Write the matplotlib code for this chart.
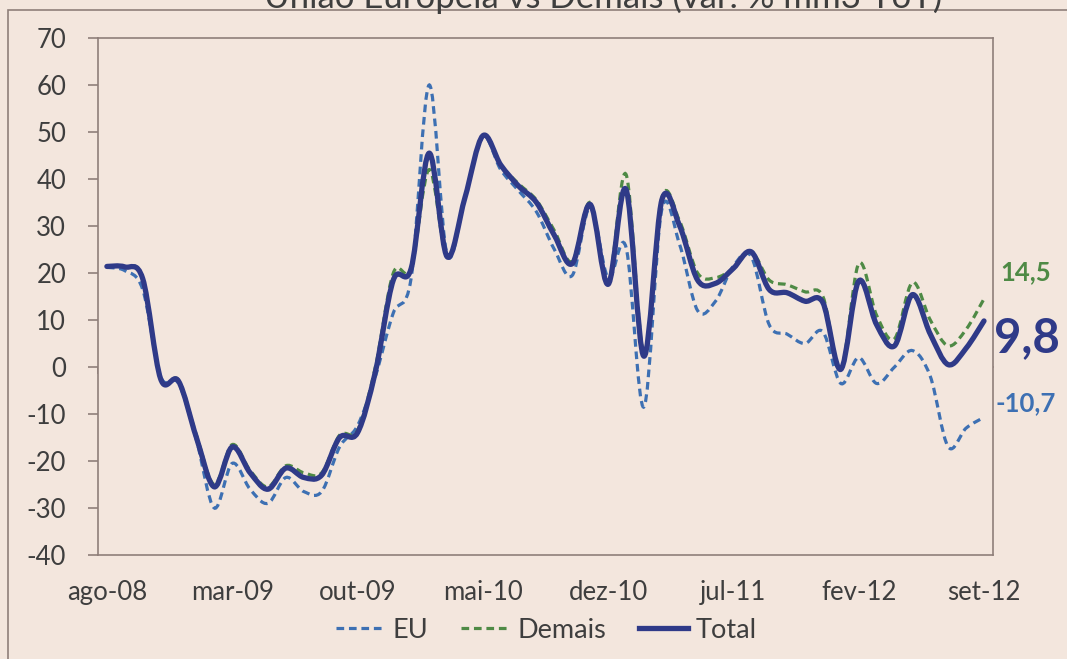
import matplotlib
matplotlib.use("Agg")
import matplotlib.pyplot as plt
from matplotlib.lines import Line2D
from matplotlib.patches import Rectangle, PathPatch
from matplotlib.path import Path

plt.rcParams['font.family'] = ['Lato', 'DejaVu Sans']
plt.rcParams['axes.unicode_minus'] = False

# ---- data (monthly, ago-08 .. set-12) ----
months = ["ago-08", "set-08", "out-08", "nov-08", "dez-08",
          "jan-09", "fev-09", "mar-09", "abr-09", "mai-09", "jun-09", "jul-09",
          "ago-09", "set-09", "out-09", "nov-09", "dez-09",
          "jan-10", "fev-10", "mar-10", "abr-10", "mai-10", "jun-10", "jul-10",
          "ago-10", "set-10", "out-10", "nov-10", "dez-10",
          "jan-11", "fev-11", "mar-11", "abr-11", "mai-11", "jun-11", "jul-11",
          "ago-11", "set-11", "out-11", "nov-11", "dez-11",
          "jan-12", "fev-12", "mar-12", "abr-12", "mai-12", "jun-12", "jul-12",
          "ago-12", "set-12"]

eu = [21.2, 20.5, 16.5, -2, -3.5, -15.5, -30, -20.5, -26, -29,
      -23.5, -26.5, -26.5, -17, -12.5, -2, 11.5, 19, 60, 24,
      36, 49, 42, 37.5, 33, 25, 19.5, 34, 19, 25.5,
      -8.5, 33.5, 26, 12, 14, 21.5, 23.5, 9, 7, 5,
      7.5, -3.5, 2, -3.5, 0, 3.5, -2, -17, -13, -10.7]

demais = [21.4, 21.3, 19, -2.5, -2.8, -14.5, -25, -16.5, -22, -25.5,
          -21, -22.5, -22.5, -14.5, -13.5, 0, 20, 21, 42, 23.5,
          36, 49, 43, 39, 35.5, 29, 22.5, 35, 18, 41,
          3, 36, 31, 20, 19, 21, 24.5, 18.5, 17.5, 16,
          15, -0.5, 22, 11, 6, 18, 10, 4.5, 8, 14.5]

total = [21.4, 21.3, 18.8, -2.5, -3, -15, -25.5, -17, -22.5, -26,
         -21.5, -23.5, -23, -15, -14, -1, 18.5, 21, 45.5, 23.5,
         36, 49.2, 43, 38.5, 35, 28, 22, 34.6, 17.6, 37.8,
         2.3, 35.5, 30, 18.5, 17.8, 21, 24.5, 16.5, 15.8, 14,
         13.7, -0.5, 18.3, 9, 4.5, 15.4, 7, 0.5, 4, 9.8]

series_names = ["EU", "Demais", "Total"]
yticks = list(range(-40, 71, 10))
label_step = 7

# ---- style ----
bg = "#F3E6DD"
frame_c = "#8F7F7A"
text_c = "#3E3E3E"
c_eu = "#3D70B3"
c_dem = "#4E8A45"
c_tot = "#2F3A88"


def smooth_line(ax, xs, ys, **kw):
    """Excel-style smoothed line: cubic Bezier segments through every data point."""
    n = len(xs)
    verts = [(xs[0], ys[0])]
    codes = [Path.MOVETO]
    for i in range(n - 1):
        a = i - 1 if i > 0 else i
        d = i + 2 if i + 2 < n else i + 1
        c1 = (xs[i] + (xs[i + 1] - xs[a]) / 6.0, ys[i] + (ys[i + 1] - ys[a]) / 6.0)
        c2 = (xs[i + 1] - (xs[d] - xs[i]) / 6.0, ys[i + 1] - (ys[d] - ys[i]) / 6.0)
        verts += [c1, c2, (xs[i + 1], ys[i + 1])]
        codes += [Path.CURVE4] * 3
    patch = PathPatch(Path(verts, codes), fill=False, **kw)
    ax.add_patch(patch)
    return patch


fig = plt.figure(figsize=(10.67, 6.59), dpi=100, facecolor=bg)
ax = fig.add_axes([0.0918, 0.1578, 0.8388, 0.7845], facecolor=bg)

x = list(range(len(months)))
dash = (0, (2.4, 1.5))
smooth_line(ax, x, eu, edgecolor=c_eu, lw=2.3, linestyle=dash, capstyle='butt', zorder=3)
smooth_line(ax, x, demais, edgecolor=c_dem, lw=2.3, linestyle=dash, capstyle='butt', zorder=4)
smooth_line(ax, x, total, edgecolor=c_tot, lw=3.8, joinstyle='round', capstyle='round', zorder=5)

ax.set_xlim(-0.5, len(months) - 0.5)
ax.set_ylim(-40, 70)
ax.set_yticks(yticks)
ax.set_yticklabels([str(v) for v in yticks])
xt = list(range(0, len(months), label_step))
ax.set_xticks(xt)
ax.set_xticklabels([months[i] for i in xt])

for s in ax.spines.values():
    s.set_color(frame_c)
    s.set_linewidth(1.2)
ax.tick_params(axis='y', direction='out', length=7, width=1.2, color=frame_c,
               labelsize=18.5, labelcolor=text_c, pad=16)
ax.tick_params(axis='x', length=0, labelsize=18.5, labelcolor=text_c, pad=18)

# horizontal category axis at zero with tick marks between categories
ax2 = ax.twiny()
ax2.set_xlim(ax.get_xlim())
for k in ['top', 'left', 'right']:
    ax2.spines[k].set_visible(False)
ax2.spines['bottom'].set_visible(True)
ax2.spines['bottom'].set_position(('data', 0))
ax2.spines['bottom'].set_color(frame_c)
ax2.spines['bottom'].set_linewidth(1.2)
ax2.xaxis.set_ticks_position('bottom')
ax2.set_xticks([i - 0.5 for i in range(0, len(months) + 1, label_step)])
ax2.set_xticklabels([])
ax2.tick_params(axis='x', direction='out', length=5, width=1.2, color=frame_c)
ax2.set_zorder(ax.get_zorder() - 0.5)
ax.set_zorder(1)
ax2.patch.set_visible(False)

# end-value labels
def fmt(v):
    return f"{v:.1f}".replace(".", ",")

ax.annotate(fmt(demais[-1]), xy=(x[-1], demais[-1]), xytext=(12, 19),
            textcoords='offset points', color=c_dem, fontsize=18.5, fontweight='bold',
            va='center', ha='left', annotation_clip=False)
ax.annotate(fmt(total[-1]), xy=(x[-1], total[-1]), xytext=(7, -12),
            textcoords='offset points', color=c_tot, fontsize=34, fontweight='bold',
            va='center', ha='left', annotation_clip=False)
ax.annotate(fmt(eu[-1]), xy=(x[-1], eu[-1]), xytext=(8, 10),
            textcoords='offset points', color=c_eu, fontsize=18.5, fontweight='bold',
            va='center', ha='left', annotation_clip=False)

# legend
handles = [Line2D([], [], color=c_eu, lw=2.3, ls=dash),
           Line2D([], [], color=c_dem, lw=2.3, ls=dash),
           Line2D([], [], color=c_tot, lw=3.8)]
leg = fig.legend(handles, series_names, loc='center', bbox_to_anchor=(0.512, 0.044),
                 ncol=3, frameon=False, fontsize=19.5, handlelength=1.8,
                 handletextpad=0.3, columnspacing=1.2, labelcolor=text_c)

# outer frame and (cropped) title
fig.add_artist(Rectangle((8 / 1067, -0.1), 1.2, 1.1 - 10 / 659,
                         transform=fig.transFigure, fill=False,
                         edgecolor=frame_c, lw=1.2))
fig.text(0.565, 1 - 8 / 659, "União Europeia vs Demais (var. % mm3 YoY)",
         ha='center', va='baseline', fontsize=25, color=text_c)

fig.savefig("out.png", dpi=100, facecolor=bg)
